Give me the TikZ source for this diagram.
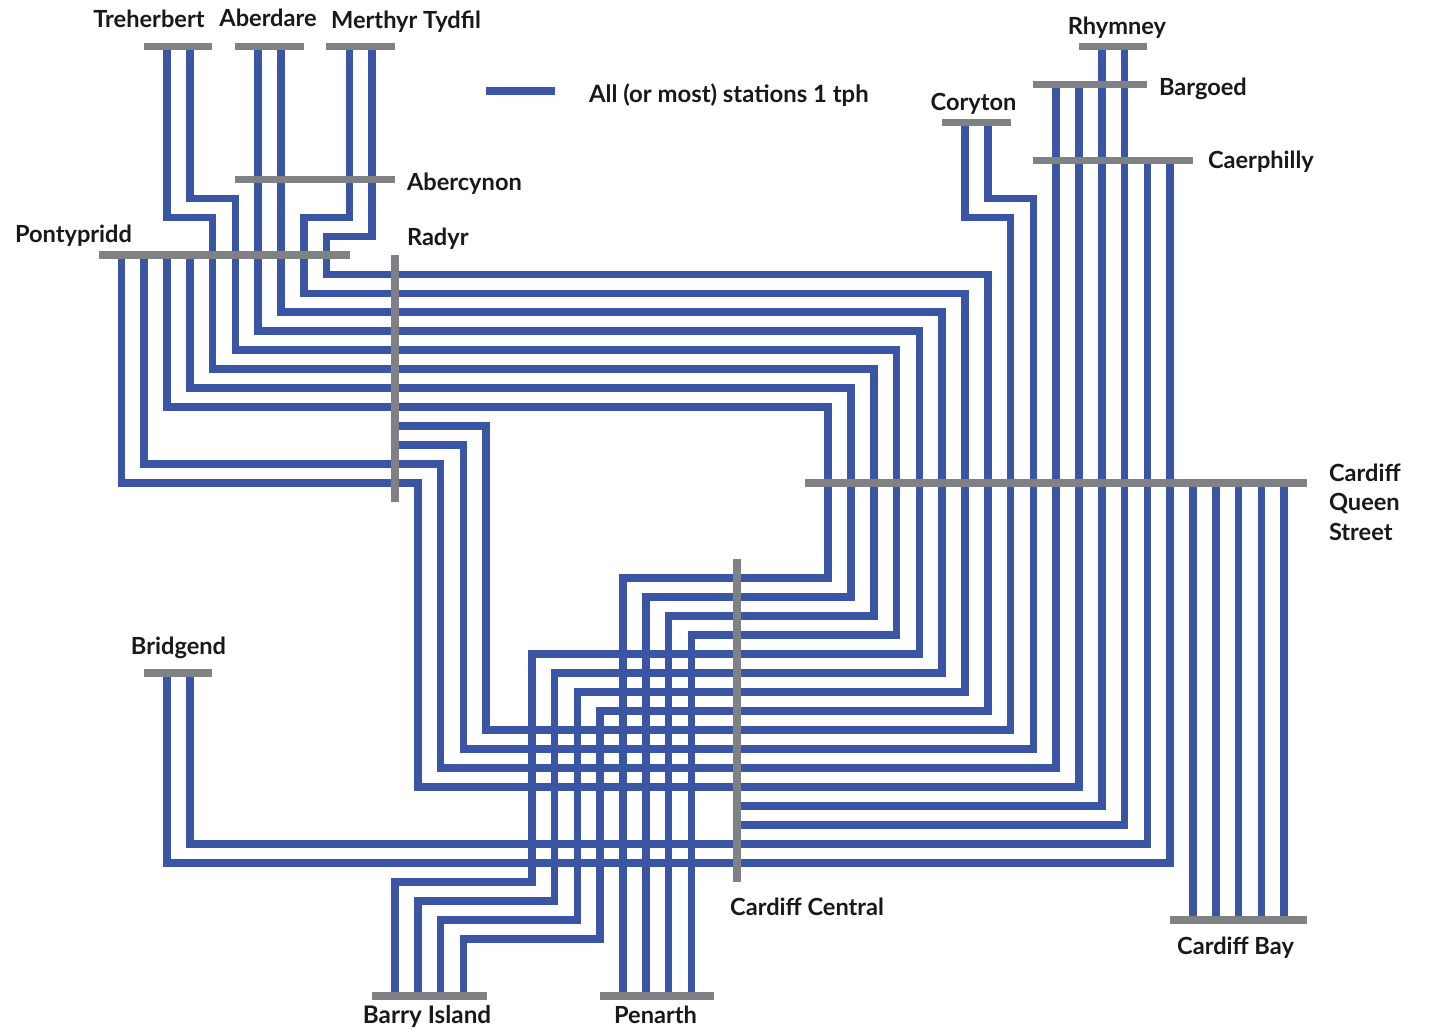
\documentclass[tikz,border=0pt]{standalone}
\usepackage{fontspec}
\setmainfont{Lato}[BoldFont=Lato Bold]
\pgfdeclarelayer{routes}
\pgfsetlayers{routes,main}
\def\u{0.75pt}
\definecolor{routeblue}{HTML}{3B55A5}
\definecolor{bargray}{HTML}{7F8184}
\tikzset{
  route/.style={draw=routeblue,line width=7.6*\u,line join=miter,line cap=butt},
  hbar/.style={fill=bargray,inner sep=0pt,outer sep=0pt,minimum height=7.6*\u,minimum width=#1*\u,rectangle},
  vbar/.style={fill=bargray,inner sep=0pt,outer sep=0pt,minimum width=7.6*\u,minimum height=#1*\u,rectangle},
  lab/.style={inner sep=0pt,outer sep=0pt,font=\fontsize{17.7}{20}\selectfont\bfseries,text=black!90},
}
\begin{document}
\begin{tikzpicture}[x=0.75pt,y=-0.75pt]
\useasboundingbox (0,0) rectangle (1431,1030);
\foreach \k in {0,...,51} {
  \coordinate (c\k) at ({121.4+22.8*\k},0);
  \coordinate (r\k) at (0,{46.5+18.985*\k});
}
% station bars
\node[hbar=68.5] (treherbert) at (178.2,46.5) {};
\node[hbar=68.5] (aberdare) at (269.5,46.5) {};
\node[hbar=68.5] (merthyr) at (360.5,46.5) {};
\node[hbar=160] (abercynon) at (315,179.4) {};
\node[hbar=251] (pontypridd) at (224,255.3) {};
\node[vbar=247] (radyr) at (395,378.5) {};
\node[hbar=68.5] (coryton) at (976.3,122.4) {};
\node[hbar=68.5] (rhymney) at (1113,46.5) {};
\node[hbar=114] (bargoed) at (1090,84.5) {};
\node[hbar=160] (caerphilly) at (1113,160.4) {};
\node[hbar=502] (queenst) at (1056,483.2) {};
\node[vbar=323] (central) at (736.8,720.5) {};
\node[hbar=68.5] (bridgend) at (178.2,673) {};
\node[hbar=137] (bay) at (1238.5,920) {};
\node[hbar=114.5] (barry) at (429.3,996) {};
\node[hbar=114.5] (penarth) at (657,996) {};
% labels
\node[lab,anchor=base] (ltreherbert) at (149,27.5) {Treherbert};
\node[lab,anchor=base] (laberdare) at (268,27) {Aberdare};
\node[lab,anchor=base] (lmerthyr) at (406,29) {Merthyr Tydfil};
\node[lab,anchor=base west] (labercynon) at (407,191) {Abercynon};
\node[lab,anchor=base west] (lradyr) at (407,246) {Radyr};
\node[lab,anchor=base] (lpontypridd) at (73.5,243) {Pontypridd};
\node[lab,anchor=base] (lrhymney) at (1117,35) {Rhymney};
\node[lab,anchor=base west] (lbargoed) at (1159,96) {Bargoed};
\node[lab,anchor=base] (lcoryton) at (973.5,110.5) {Coryton};
\node[lab,anchor=base west] (lcaerphilly) at (1208,169) {Caerphilly};
\node[lab,anchor=base west] (lq1) at (1329,481) {Cardiff};
\node[lab,anchor=base west] (lq2) at (1329,510.5) {Queen};
\node[lab,anchor=base west] (lq3) at (1329,540) {Street};
\node[lab,anchor=base] (lbridgend) at (178.5,654) {Bridgend};
\node[lab,anchor=base] (lcentral) at (807,915.5) {Cardiff Central};
\node[lab,anchor=base] (lbay) at (1235.5,954) {Cardiff Bay};
\node[lab,anchor=base,font=\fontsize{18.2}{20}\selectfont\bfseries] (lbarry) at (427,1023) {Barry Island};
\node[lab,anchor=base] (lpenarth) at (655.5,1023) {Penarth};
\node[lab,anchor=base west,font=\fontsize{17.9}{20}\selectfont\bfseries] (llegend) at (589,103) {All (or most) stations 1 tph};
\coordinate (lega) at (486,91);
\coordinate (legb) at (555,91);
% routes
\begin{pgfonlayer}{routes}
\fill[white] (0,0) rectangle (1431,1030);
\draw[route] (lega) -- (legb);
\draw[route] (c2|-treherbert) |- (c4|-r9) |- (c33|-r17) |- (c24|-r30) -- (c24|-penarth);
\draw[route] (c3|-treherbert) |- (c5|-r8) |- (c34|-r16) |- (c25|-r31) -- (c25|-penarth);
\draw[route] (c6|-aberdare) |- (c35|-r15) |- (c18|-r32) |- (c12|-r44) -- (c12|-barry);
\draw[route] (c7|-aberdare) |- (c36|-r14) |- (c19|-r33) |- (c13|-r45) -- (c13|-barry);
\draw[route] (c10|-merthyr) |- (c8|-r9) |- (c37|-r13) |- (c20|-r34) |- (c14|-r46) -- (c14|-barry);
\draw[route] (c11|-merthyr) |- (c9|-r10) |- (c38|-r12) |- (c21|-r35) |- (c15|-r47) -- (c15|-barry);
\draw[route] (c3|-pontypridd) |- (c32|-r18) |- (c23|-r29) -- (c23|-penarth);
\draw[route] (c2|-pontypridd) |- (c31|-r19) |- (c22|-r28) -- (c22|-penarth);
\draw[route] (c1|-pontypridd) |- (c14|-r22) |- (c41|-r38) -- (c41|-bargoed);
\draw[route] (c0|-pontypridd) |- (c13|-r23) |- (c42|-r39) -- (c42|-bargoed);
\draw[route] (radyr|-r20) -| (c16|-r36) -| (c39|-r9) -| (c37|-coryton);
\draw[route] (radyr|-r21) -| (c15|-r37) -| (c40|-r8) -| (c38|-coryton);
\draw[route] (central|-r40) -| (c43|-rhymney);
\draw[route] (central|-r41) -| (c44|-rhymney);
\draw[route] (c3|-bridgend) |- (c45|-r42) -- (c45|-caerphilly);
\draw[route] (c2|-bridgend) |- (c46|-r43) -- (c46|-caerphilly);
\foreach \k in {47,...,51} \draw[route] (c\k|-queenst) -- (c\k|-bay);
\end{pgfonlayer}
\end{tikzpicture}
\end{document}
